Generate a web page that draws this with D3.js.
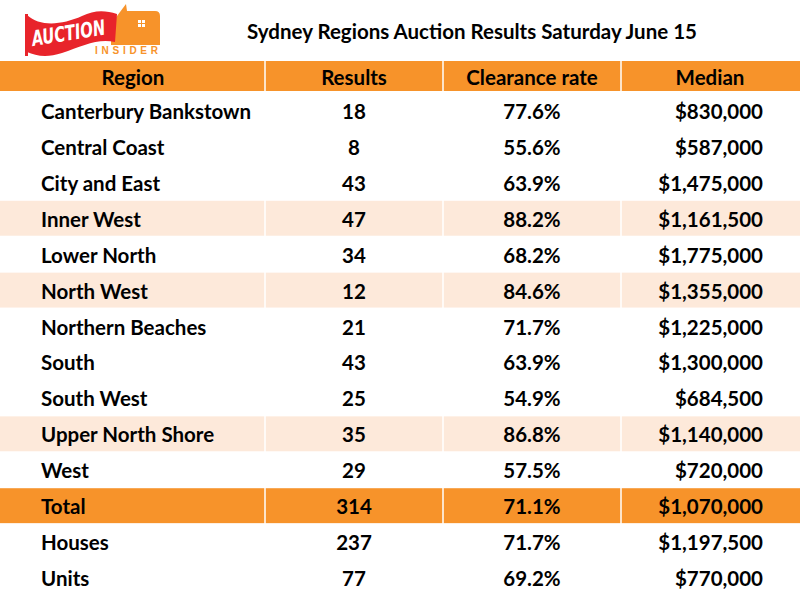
<!DOCTYPE html>
<html><head><meta charset="utf-8">
<script src="https://cdn.jsdelivr.net/npm/d3@7"></script>
<style>body{margin:0;background:#fff}svg{display:block}</style>
</head><body>
<script>
const title = "Sydney Regions Auction Results Saturday June 15";
const columns = ["Region", "Results", "Clearance rate", "Median"];
const regions = ["Canterbury Bankstown","Central Coast","City and East","Inner West","Lower North","North West","Northern Beaches","South","South West","Upper North Shore","West","Total","Houses","Units"];
const results = [18, 8, 43, 47, 34, 12, 21, 43, 25, 35, 29, 314, 237, 77];
const clearance = [77.6, 55.6, 63.9, 88.2, 68.2, 84.6, 71.7, 63.9, 54.9, 86.8, 57.5, 71.1, 71.7, 69.2];
const median = [830000, 587000, 1475000, 1161500, 1775000, 1355000, 1225000, 1300000, 684500, 1140000, 720000, 1070000, 1197500, 770000];

const W = 800, H = 600;
const ORANGE = "#F7932A", PINK = "#FDE9DA";
const FONT = "Lato, 'Open Sans', sans-serif";
const pinkRows = new Set(["Inner West","North West","Upper North Shore"]);
const totalRow = "Total";

const svg = d3.select("body").append("svg").attr("width", W).attr("height", H);

const colEdges = [0, 265, 443, 621, 800];
const y = d3.scaleBand().domain(regions).range([92, 595]).padding(0);
const headerTop = 61, headerBottom = 91;

// header
svg.append("rect").attr("x", 0).attr("y", headerTop).attr("width", W).attr("height", headerBottom - headerTop).attr("fill", ORANGE);

// rows backgrounds
svg.selectAll("rect.row").data(regions).join("rect")
  .attr("class", "row")
  .attr("x", 0).attr("y", d => y(d) + 1).attr("width", W).attr("height", y.bandwidth() - 1)
  .attr("fill", d => d === totalRow ? ORANGE : pinkRows.has(d) ? PINK : "none");

// white column separators
colEdges.slice(1, 4).forEach(cx => {
  svg.append("line").attr("x1", cx).attr("x2", cx).attr("y1", headerTop).attr("y2", 598)
    .attr("stroke", "#fff").attr("stroke-width", 1.5);
});

const tStyle = sel => sel.attr("font-family", FONT).attr("font-weight", 700).attr("font-size", 20.5).attr("fill", "#000").attr("dominant-baseline", "central");

// header text
const hdrCenters = [133, 354, 532, 710];
svg.selectAll("text.hdr").data(columns).join("text").attr("class", "hdr")
  .attr("x", (d, i) => hdrCenters[i]).attr("y", (headerTop + headerBottom) / 2 + 1)
  .attr("text-anchor", "middle").text(d => d).call(tStyle);

const fmtMoney = d => "$" + d3.format(",")(d);
const fmtPct = d => d3.format(".1f")(d) + "%";

const rowsG = svg.selectAll("g.r").data(regions).join("g").attr("class", "r")
  .attr("transform", d => `translate(0,${y(d) + y.bandwidth() / 2 + 1})`);
rowsG.append("text").attr("x", 41).attr("text-anchor", "start").text(d => d).call(tStyle);
rowsG.append("text").attr("x", 354).attr("text-anchor", "middle").text((d, i) => results[i]).call(tStyle);
rowsG.append("text").attr("x", 532).attr("text-anchor", "middle").text((d, i) => fmtPct(clearance[i])).call(tStyle);
rowsG.append("text").attr("x", 763).attr("text-anchor", "end").text((d, i) => fmtMoney(median[i])).call(tStyle);

// title
svg.append("text").attr("x", 472).attr("y", 31).attr("text-anchor", "middle").text(title).call(tStyle);

// logo
const logo = svg.append("g");
// house
logo.append("path").attr("fill", "#F7932A")
  .attr("d", "M111,24 L126,4 L127,11 L155,11 Q160,11 160,16 L160,45 L111,45 Z");
// window
[[138,20],[142,20],[138,24],[142,24]].forEach(([wx, wy]) =>
  logo.append("rect").attr("x", wx).attr("y", wy).attr("width", 3).attr("height", 3).attr("fill", "#fff"));
// flag
logo.append("path").attr("fill", "#E8242B")
  .attr("d", "M27,15 C40,27 62,25 82,16 C94,10 105,10 117,14 L115,42 C98,38 82,46 62,53 C47,58 36,56 27,52 Z");
logo.append("rect").attr("x", 25).attr("y", 14).attr("width", 3).attr("height", 42).attr("fill", "#E8242B");
logo.append("text").attr("x", 33).attr("y", 46).attr("transform", "rotate(-9,33,46)")
  .attr("font-family", "'DejaVu Sans Condensed', 'Liberation Sans Narrow', sans-serif").attr("font-weight", 700)
  .attr("font-style", "italic").attr("font-size", 21).attr("fill", "#fff").attr("textLength", 74).attr("lengthAdjust", "spacingAndGlyphs").text("AUCTION");
logo.append("text").attr("x", 95).attr("y", 54).attr("font-family", "'Liberation Sans', sans-serif").attr("font-weight", 700)
  .attr("font-size", 10).attr("fill", "#F7932A").attr("textLength", 63).attr("lengthAdjust", "spacing").text("INSIDER");
</script>
</body></html>
